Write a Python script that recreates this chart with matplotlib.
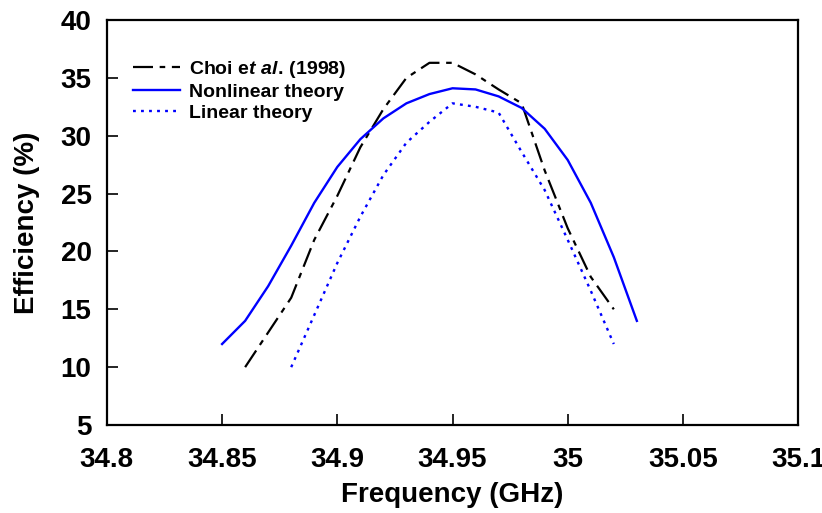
import matplotlib
matplotlib.use('Agg')
import matplotlib.pyplot as plt

# Data
freq_choi = [34.86, 34.87, 34.88, 34.89, 34.90, 34.91, 34.92, 34.93, 34.94, 34.95,
             34.96, 34.97, 34.98, 34.99, 35.00, 35.01, 35.02]
eff_choi = [10.0, 13.0, 16.0, 21.0, 24.8, 29.0, 32.3, 35.0, 36.3, 36.3,
            35.3, 34.0, 32.8, 27.0, 22.0, 17.8, 15.0]

freq_nl = [34.85, 34.86, 34.87, 34.88, 34.89, 34.90, 34.91, 34.92, 34.93, 34.94,
           34.95, 34.96, 34.97, 34.98, 34.99, 35.00, 35.01, 35.02, 35.03]
eff_nl = [12.0, 14.0, 17.0, 20.5, 24.2, 27.3, 29.7, 31.5, 32.8, 33.6,
          34.1, 34.0, 33.4, 32.4, 30.6, 27.9, 24.2, 19.5, 14.0]

freq_lin = [34.88, 34.89, 34.90, 34.91, 34.92, 34.93, 34.94, 34.95,
            34.96, 34.97, 34.98, 34.99, 35.00, 35.01, 35.02]
eff_lin = [10.0, 14.5, 19.0, 23.0, 26.6, 29.4, 31.2, 32.8,
           32.5, 32.0, 28.6, 25.3, 21.0, 16.6, 12.0]

x_ticks = [34.8, 34.85, 34.9, 34.95, 35, 35.05, 35.1]
x_tick_labels = ['34.8', '34.85', '34.9', '34.95', '35', '35.05', '35.1']
y_ticks = [5, 10, 15, 20, 25, 30, 35, 40]

plt.rcParams['font.family'] = ['Liberation Sans', 'DejaVu Sans']
plt.rcParams['font.weight'] = 'bold'
plt.rcParams['mathtext.fontset'] = 'custom'
plt.rcParams['mathtext.it'] = 'Liberation Sans:italic:bold'
plt.rcParams['mathtext.rm'] = 'Liberation Sans:bold'

fig = plt.figure(figsize=(8.22, 5.13), dpi=100)
ax = fig.add_axes([0.130, 0.1715, 0.841, 0.7895])

ax.plot(freq_choi, eff_choi, color='black', lw=1.6,
        dashes=(9, 3, 2.5, 3), label='Choi e$\\mathit{t\\ al.}\\,$(1998)')
ax.plot(freq_nl, eff_nl, color='#0000ff', lw=1.7, label='Nonlinear theory')
ax.plot(freq_lin, eff_lin, color='#0000ff', lw=1.7,
        dashes=(1.2, 2.2), label='Linear theory')

ax.set_xlim(34.8, 35.1)
ax.set_ylim(5, 40)
ax.set_xticks(x_ticks)
ax.set_xticklabels(x_tick_labels)
ax.set_yticks(y_ticks)

for s in ax.spines.values():
    s.set_linewidth(1.6)
ax.tick_params(direction='in', length=8, width=1.2, labelsize=20,
               top=False, right=False)
ax.tick_params(axis='y', pad=11)
ax.tick_params(axis='x', pad=16)

ax.set_xlabel('Frequency (GHz)', fontsize=20, fontweight='bold', labelpad=6)
ax.set_ylabel('Efficiency (%)', fontsize=20, fontweight='bold', labelpad=15)

ax.legend(loc='upper left', bbox_to_anchor=(0.018, 0.938), frameon=False,
          prop={'size': 14, 'weight': 'bold'}, handlelength=2.4,
          handletextpad=0.5, labelspacing=0.17, borderaxespad=0.3)

fig.savefig('out.png', dpi=100)
